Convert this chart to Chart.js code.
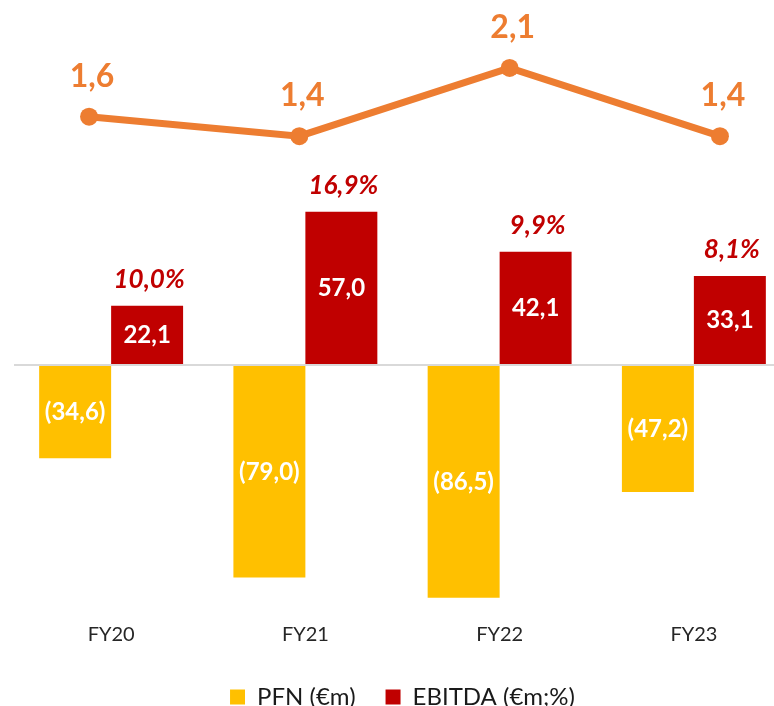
<!DOCTYPE html>
<html>
<head>
<meta charset="utf-8">
<script src="https://cdn.jsdelivr.net/npm/chart.js@4"></script>
<style>
  html, body { margin: 0; padding: 0; background: #fff; overflow: hidden; }
  #frame { width: 774px; height: 706px; overflow: hidden; }
  #box { position: relative; width: 800px; height: 719px; }
  #box canvas { position: absolute; left: 0; top: 0; }
</style>
</head>
<body>
<div id="frame">
  <div id="box">
    <canvas id="barChart" width="800" height="719"></canvas>
    <canvas id="lineChart" width="800" height="719"></canvas>
  </div>
</div>
<script>
const years = ["FY20", "FY21", "FY22", "FY23"];
const pfn = [-34.6, -79.0, -86.5, -47.2];        // net financial position, €m
const ebitda = [22.1, 57.0, 42.1, 33.1];         // €m
const ebitdaMargin = [10.0, 16.9, 9.9, 8.1];     // %
const leverage = [1.6, 1.4, 2.1, 1.4];           // PFN / EBITDA

const FONT = "Lato, 'Open Sans', sans-serif";

// 34.6 -> "34,6", -34.6 -> "(34,6)"
function fmt(v) {
  const s = Math.abs(v).toFixed(1).replace(".", ",");
  return v < 0 ? "(" + s + ")" : s;
}

const barLabels = {
  id: "barLabels",
  afterDatasetsDraw(chart) {
    const ctx = chart.ctx;
    ctx.save();
    ctx.textAlign = "center";
    ctx.textBaseline = "middle";

    ctx.font = "bold 24px " + FONT;
    ctx.fillStyle = "#ffffff";
    chart.getDatasetMeta(0).data.forEach((bar, i) => {
      ctx.fillText(fmt(pfn[i]), bar.x, (bar.y + bar.base) / 2);
    });
    chart.getDatasetMeta(1).data.forEach((bar, i) => {
      ctx.fillText(fmt(ebitda[i]), bar.x, (bar.y + bar.base) / 2);
    });

    ctx.font = "italic bold 26px " + FONT;
    ctx.fillStyle = "#c00000";
    chart.getDatasetMeta(1).data.forEach((bar, i) => {
      ctx.fillText(fmt(ebitdaMargin[i]) + "%", bar.x + 2, bar.y - 26);
    });
    ctx.restore();
  }
};

const lineLabels = {
  id: "lineLabels",
  afterDatasetsDraw(chart) {
    const ctx = chart.ctx;
    ctx.save();
    ctx.textAlign = "center";
    ctx.textBaseline = "middle";
    ctx.font = "bold 32px " + FONT;
    ctx.fillStyle = "#ed7d31";
    chart.getDatasetMeta(0).data.forEach((pt, i) => {
      ctx.fillText(fmt(leverage[i]), pt.x + 3, pt.y - 40);
    });
    ctx.restore();
  }
};

// bars: PFN and EBITDA per year
const barChart = new Chart(document.getElementById("barChart"), {
  type: "bar",
  data: {
    labels: years,
    datasets: [
      { label: "PFN (€m)", data: pfn, backgroundColor: "#ffc000", borderWidth: 0 },
      { label: "EBITDA (€m;%)", data: ebitda, backgroundColor: "#c00000", borderWidth: 0 },
    ],
  },
  options: {
    responsive: false,
    animation: false,
    devicePixelRatio: 1,
    categoryPercentage: 0.741,
    barPercentage: 1.0,
    layout: { padding: { left: 14, right: 9, top: 10, bottom: 0 } },
    plugins: {
      tooltip: { enabled: false },
      legend: {
        position: "bottom",
        labels: {
          boxWidth: 15,
          boxHeight: 15,
          padding: 30,
          color: "#1a1a1a",
          font: { family: FONT, size: 24 },
        },
      },
    },
    scales: {
      x: {
        grid: { display: false, drawTicks: false },
        border: { display: false },
        ticks: { color: "#262626", padding: 8, font: { family: FONT, size: 20 } },
      },
      y: {
        min: -92.9,
        max: 132,
        ticks: { display: false, stepSize: 10 },
        border: { display: false },
        grid: {
          drawTicks: false,
          lineWidth: 2,
          color: (c) => (c.tick && c.tick.value === 0 ? "#d9d9d9" : "transparent"),
        },
      },
    },
  },
  plugins: [barLabels],
});

// leverage line, drawn on its own layer over the bars
const lineChart = new Chart(document.getElementById("lineChart"), {
  type: "line",
  data: {
    datasets: [
      {
        label: "PFN/EBITDA",
        data: leverage.map((v, i) => ({ x: i, y: v })),
        borderColor: "#ed7d31",
        backgroundColor: "#ed7d31",
        borderWidth: 7,
        pointRadius: 9,
        pointBorderWidth: 0,
        pointBackgroundColor: "#ed7d31",
        tension: 0,
      },
    ],
  },
  options: {
    responsive: false,
    animation: false,
    devicePixelRatio: 1,
    layout: { padding: { left: 14, right: 9, top: 10, bottom: 107 } },
    plugins: { legend: { display: false }, tooltip: { enabled: false } },
    scales: {
      x: { type: "linear", display: false, offset: false, min: -0.357, max: 3.338 },
      y: { display: false, min: -3.48, max: 2.694 },
    },
  },
  plugins: [lineLabels],
});
</script>
</body>
</html>
